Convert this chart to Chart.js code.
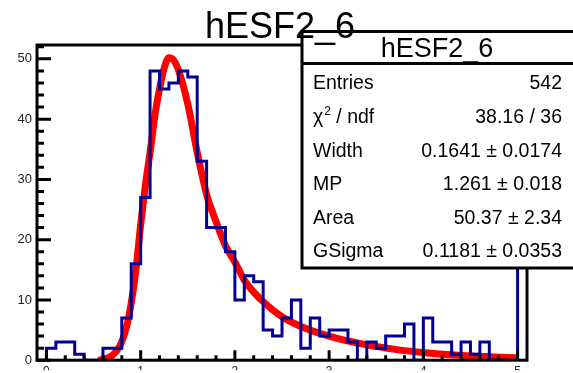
<!DOCTYPE html>
<html>
<head>
<meta charset="utf-8">
<title>hESF2_6</title>
<script src="https://cdn.jsdelivr.net/npm/chart.js@4.4.1/dist/chart.umd.min.js"></script>
<style>
  body { margin: 0; background: #fff; }
  #wrap { width: 573px; height: 373px; overflow: hidden; }
</style>
</head>
<body>
<div id="wrap"><canvas id="histChart" width="573" height="373"></canvas></div>
<script>
// histogram: 0.1 wide bins from -0.1 to 5.1
const binLow = -0.1;
const binWidth = 0.1;
const binCounts = [
  0,
  2, 3, 3, 1, 0, 0, 2, 2, 7, 16,
  27, 48, 45, 46, 48, 47, 33, 22, 22, 18,
  10, 14, 13, 5, 4, 7, 10, 2, 7, 4,
  5, 5, 3, 0, 3, 2, 4, 4, 6, 0,
  7, 3, 3, 1, 3, 1, 3, 0, 0, 0,
  21
];

// fit curve
const fitX = [0.55, 0.62, 0.70, 0.78, 0.85, 0.90, 0.95, 1.00, 1.05, 1.10, 1.15, 1.20, 1.25, 1.30, 1.35, 1.40,
  1.50, 1.60, 1.70, 1.80, 1.90, 2.00, 2.10, 2.20, 2.35, 2.50, 2.70, 3.00, 3.35, 3.70, 4.05, 4.40, 4.75, 5.00];
const fitY = [0, 0.2, 0.8, 2.4, 5.5, 9.5, 15, 22.5, 29, 34.5, 40.5, 45, 48.5, 50.2, 49.8, 48.2,
  42.5, 34.5, 27.5, 23, 19, 16.3, 13.3, 11.3, 9, 7.2, 5.6, 4.0, 2.7, 1.8, 1.2, 0.8, 0.55, 0.4];

const xTickLabels = [0, 1, 2, 3, 4, 5];
const yTickLabels = [0, 10, 20, 30, 40, 50];

const histTitle = "hESF2_6";
const statsLabels = ["Entries", "χ^2 / ndf", "Width", "MP", "Area", "GSigma"];
const statsValues = ["542", "38.16 / 36", "0.1641 ± 0.0174", "1.261 ± 0.018", "50.37 ± 2.34", "0.1181 ± 0.0353"];

const FONT = "'Liberation Sans', Arial, Helvetica, sans-serif";

const histPoints = binCounts.map((c, i) => ({ x: binLow + i * binWidth, y: c }));
histPoints.push({ x: binLow + binCounts.length * binWidth, y: binCounts[binCounts.length - 1] });
const fitPoints = fitX.map((x, i) => ({ x, y: fitY[i] }));

const xMinorStep = 0.2;
const yMinorStep = 2;

// frame, inner ticks, stats box and title, ROOT style
const rootFrame = {
  id: "rootFrame",
  afterDraw(chart) {
    const { ctx, chartArea: a, scales: { x, y } } = chart;
    ctx.save();
    ctx.strokeStyle = "#000";
    ctx.lineWidth = 3;
    ctx.lineCap = "butt";

    ctx.beginPath();
    for (let k = 0; k * yMinorStep <= 52; k++) {
      const py = y.getPixelForValue(k * yMinorStep);
      const len = (k * yMinorStep) % 10 === 0 ? 14 : 7;
      ctx.moveTo(a.left, py);
      ctx.lineTo(a.left + len, py);
    }
    for (let k = 0; k <= 25; k++) {
      const px = x.getPixelForValue(k * xMinorStep);
      const len = k % 5 === 0 ? 10 : 5;
      ctx.moveTo(px, a.bottom);
      ctx.lineTo(px, a.bottom - len);
    }
    ctx.stroke();
    ctx.strokeRect(a.left, a.top, a.right - a.left, a.bottom - a.top);

    // stats box
    const bx = 302, by = 31.5, bw = 290, bh = 236.5;
    ctx.fillStyle = "#fff";
    ctx.fillRect(bx, by, bw, bh);
    ctx.strokeRect(bx, by, bw, bh);
    ctx.beginPath();
    ctx.moveTo(bx, 63.5);
    ctx.lineTo(bx + bw, 63.5);
    ctx.stroke();

    ctx.fillStyle = "#000";
    ctx.textBaseline = "alphabetic";
    ctx.textAlign = "center";
    ctx.font = "27px " + FONT;
    ctx.fillText(histTitle, 437, 56.5);

    ctx.font = "19.5px " + FONT;
    statsLabels.forEach((lab, i) => {
      const base = 89.3 + i * 33.6;
      ctx.textAlign = "left";
      if (lab.includes("^")) {
        const [head, rest] = lab.split("^");
        let cx = 313;
        ctx.fillText(head, cx, base);
        cx += ctx.measureText(head).width + 1;
        ctx.font = "12px " + FONT;
        ctx.fillText(rest[0], cx, base - 8);
        cx += ctx.measureText(rest[0]).width;
        ctx.font = "19.5px " + FONT;
        ctx.fillText(rest.slice(1), cx, base);
      } else {
        ctx.fillText(lab, 313, base);
      }
      ctx.textAlign = "right";
      ctx.fillText(statsValues[i], 562, base);
    });

    // main title (drawn last, over the box)
    ctx.textAlign = "center";
    ctx.font = "36px " + FONT;
    ctx.fillText(histTitle, 280, 37.5);
    ctx.restore();
  }
};

new Chart(document.getElementById("histChart"), {
  type: "line",
  data: {
    datasets: [
      {
        label: "hist",
        data: histPoints,
        stepped: true,
        borderColor: "#000096",
        borderWidth: 3,
        borderJoinStyle: "miter",
        pointRadius: 0,
        fill: false
      },
      {
        label: "fit",
        data: fitPoints,
        borderColor: "#ff0000",
        borderWidth: 7,
        cubicInterpolationMode: "monotone",
        pointRadius: 0,
        fill: false
      }
    ]
  },
  options: {
    responsive: false,
    animation: false,
    devicePixelRatio: 1,
    layout: { padding: { top: 45, right: 46, left: 0, bottom: 0 } },
    plugins: { legend: { display: false }, tooltip: { enabled: false }, title: { display: false } },
    scales: {
      x: {
        type: "linear",
        min: -0.1,
        max: 5.1,
        afterBuildTicks: (s) => { s.ticks = xTickLabels.map(v => ({ value: v })); },
        afterFit: (s) => { s.height = 10; },
        grid: { display: false, drawTicks: false },
        border: { display: false },
        ticks: { padding: 4, color: "#222", font: { family: FONT, size: 12 }, maxRotation: 0, autoSkip: false }
      },
      y: {
        type: "linear",
        min: 0,
        max: 52.3,
        afterBuildTicks: (s) => { s.ticks = yTickLabels.map(v => ({ value: v })); },
        afterFit: (s) => { s.width = 37; },
        grid: { display: false, drawTicks: false },
        border: { display: false },
        ticks: { padding: 5, color: "#222", font: { family: FONT, size: 13 } }
      }
    }
  },
  plugins: [rootFrame]
});
</script>
</body>
</html>
